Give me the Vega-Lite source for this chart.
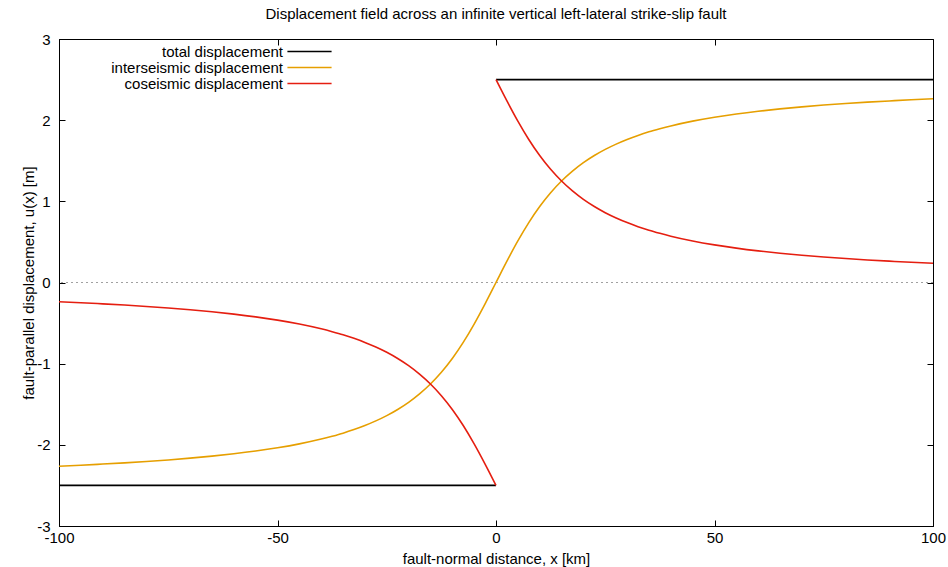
{
  "$schema": "https://vega.github.io/schema/vega-lite/v6.json",
  "autosize": {"type": "none"},
  "width": 874,
  "height": 487,
  "padding": {"left": 59, "top": 39, "right": 15, "bottom": 41},
  "background": "white",
  "title": {"text": "Displacement field across an infinite vertical left-lateral strike-slip fault", "fontSize": 15, "fontWeight": "normal", "font": "Liberation Sans", "color": "black", "anchor": "middle", "offset": 10},
  "data": {"values": [
    {"x": -100, "u": -2.5, "series": "total displacement", "seg": "tl"},
    {"x": 0, "u": -2.5, "series": "total displacement", "seg": "tl"},
    {"x": 0, "u": 2.5, "series": "total displacement", "seg": "tr"},
    {"x": 100, "u": 2.5, "series": "total displacement", "seg": "tr"},
    {"x": -100, "u": -2.263, "series": "interseismic displacement", "seg": "i"},
    {"x": -95, "u": -2.251, "series": "interseismic displacement", "seg": "i"},
    {"x": -90, "u": -2.237, "series": "interseismic displacement", "seg": "i"},
    {"x": -85, "u": -2.222, "series": "interseismic displacement", "seg": "i"},
    {"x": -80, "u": -2.205, "series": "interseismic displacement", "seg": "i"},
    {"x": -75, "u": -2.186, "series": "interseismic displacement", "seg": "i"},
    {"x": -70, "u": -2.164, "series": "interseismic displacement", "seg": "i"},
    {"x": -65, "u": -2.139, "series": "interseismic displacement", "seg": "i"},
    {"x": -60, "u": -2.110, "series": "interseismic displacement", "seg": "i"},
    {"x": -55, "u": -2.076, "series": "interseismic displacement", "seg": "i"},
    {"x": -50, "u": -2.036, "series": "interseismic displacement", "seg": "i"},
    {"x": -45, "u": -1.988, "series": "interseismic displacement", "seg": "i"},
    {"x": -40, "u": -1.929, "series": "interseismic displacement", "seg": "i"},
    {"x": -37.5, "u": -1.894, "series": "interseismic displacement", "seg": "i"},
    {"x": -35, "u": -1.856, "series": "interseismic displacement", "seg": "i"},
    {"x": -32.5, "u": -1.812, "series": "interseismic displacement", "seg": "i"},
    {"x": -30, "u": -1.762, "series": "interseismic displacement", "seg": "i"},
    {"x": -27.5, "u": -1.705, "series": "interseismic displacement", "seg": "i"},
    {"x": -25, "u": -1.640, "series": "interseismic displacement", "seg": "i"},
    {"x": -22.5, "u": -1.564, "series": "interseismic displacement", "seg": "i"},
    {"x": -20, "u": -1.476, "series": "interseismic displacement", "seg": "i"},
    {"x": -17.5, "u": -1.372, "series": "interseismic displacement", "seg": "i"},
    {"x": -15, "u": -1.250, "series": "interseismic displacement", "seg": "i"},
    {"x": -12.5, "u": -1.106, "series": "interseismic displacement", "seg": "i"},
    {"x": -10, "u": -0.936, "series": "interseismic displacement", "seg": "i"},
    {"x": -7.5, "u": -0.738, "series": "interseismic displacement", "seg": "i"},
    {"x": -5, "u": -0.512, "series": "interseismic displacement", "seg": "i"},
    {"x": -2.5, "u": -0.263, "series": "interseismic displacement", "seg": "i"},
    {"x": 0, "u": 0, "series": "interseismic displacement", "seg": "i"},
    {"x": 2.5, "u": 0.263, "series": "interseismic displacement", "seg": "i"},
    {"x": 5, "u": 0.512, "series": "interseismic displacement", "seg": "i"},
    {"x": 7.5, "u": 0.738, "series": "interseismic displacement", "seg": "i"},
    {"x": 10, "u": 0.936, "series": "interseismic displacement", "seg": "i"},
    {"x": 12.5, "u": 1.106, "series": "interseismic displacement", "seg": "i"},
    {"x": 15, "u": 1.250, "series": "interseismic displacement", "seg": "i"},
    {"x": 17.5, "u": 1.372, "series": "interseismic displacement", "seg": "i"},
    {"x": 20, "u": 1.476, "series": "interseismic displacement", "seg": "i"},
    {"x": 22.5, "u": 1.564, "series": "interseismic displacement", "seg": "i"},
    {"x": 25, "u": 1.640, "series": "interseismic displacement", "seg": "i"},
    {"x": 27.5, "u": 1.705, "series": "interseismic displacement", "seg": "i"},
    {"x": 30, "u": 1.762, "series": "interseismic displacement", "seg": "i"},
    {"x": 32.5, "u": 1.812, "series": "interseismic displacement", "seg": "i"},
    {"x": 35, "u": 1.856, "series": "interseismic displacement", "seg": "i"},
    {"x": 37.5, "u": 1.894, "series": "interseismic displacement", "seg": "i"},
    {"x": 40, "u": 1.929, "series": "interseismic displacement", "seg": "i"},
    {"x": 45, "u": 1.988, "series": "interseismic displacement", "seg": "i"},
    {"x": 50, "u": 2.036, "series": "interseismic displacement", "seg": "i"},
    {"x": 55, "u": 2.076, "series": "interseismic displacement", "seg": "i"},
    {"x": 60, "u": 2.110, "series": "interseismic displacement", "seg": "i"},
    {"x": 65, "u": 2.139, "series": "interseismic displacement", "seg": "i"},
    {"x": 70, "u": 2.164, "series": "interseismic displacement", "seg": "i"},
    {"x": 75, "u": 2.186, "series": "interseismic displacement", "seg": "i"},
    {"x": 80, "u": 2.205, "series": "interseismic displacement", "seg": "i"},
    {"x": 85, "u": 2.222, "series": "interseismic displacement", "seg": "i"},
    {"x": 90, "u": 2.237, "series": "interseismic displacement", "seg": "i"},
    {"x": 95, "u": 2.251, "series": "interseismic displacement", "seg": "i"},
    {"x": 100, "u": 2.263, "series": "interseismic displacement", "seg": "i"},
    {"x": -100, "u": -0.237, "series": "coseismic displacement", "seg": "cl"},
    {"x": -95, "u": -0.249, "series": "coseismic displacement", "seg": "cl"},
    {"x": -90, "u": -0.263, "series": "coseismic displacement", "seg": "cl"},
    {"x": -85, "u": -0.278, "series": "coseismic displacement", "seg": "cl"},
    {"x": -80, "u": -0.295, "series": "coseismic displacement", "seg": "cl"},
    {"x": -75, "u": -0.314, "series": "coseismic displacement", "seg": "cl"},
    {"x": -70, "u": -0.336, "series": "coseismic displacement", "seg": "cl"},
    {"x": -65, "u": -0.361, "series": "coseismic displacement", "seg": "cl"},
    {"x": -60, "u": -0.390, "series": "coseismic displacement", "seg": "cl"},
    {"x": -55, "u": -0.424, "series": "coseismic displacement", "seg": "cl"},
    {"x": -50, "u": -0.464, "series": "coseismic displacement", "seg": "cl"},
    {"x": -45, "u": -0.512, "series": "coseismic displacement", "seg": "cl"},
    {"x": -40, "u": -0.571, "series": "coseismic displacement", "seg": "cl"},
    {"x": -37.5, "u": -0.606, "series": "coseismic displacement", "seg": "cl"},
    {"x": -35, "u": -0.644, "series": "coseismic displacement", "seg": "cl"},
    {"x": -32.5, "u": -0.688, "series": "coseismic displacement", "seg": "cl"},
    {"x": -30, "u": -0.738, "series": "coseismic displacement", "seg": "cl"},
    {"x": -27.5, "u": -0.795, "series": "coseismic displacement", "seg": "cl"},
    {"x": -25, "u": -0.860, "series": "coseismic displacement", "seg": "cl"},
    {"x": -22.5, "u": -0.936, "series": "coseismic displacement", "seg": "cl"},
    {"x": -20, "u": -1.024, "series": "coseismic displacement", "seg": "cl"},
    {"x": -17.5, "u": -1.128, "series": "coseismic displacement", "seg": "cl"},
    {"x": -15, "u": -1.250, "series": "coseismic displacement", "seg": "cl"},
    {"x": -12.5, "u": -1.394, "series": "coseismic displacement", "seg": "cl"},
    {"x": -10, "u": -1.564, "series": "coseismic displacement", "seg": "cl"},
    {"x": -7.5, "u": -1.762, "series": "coseismic displacement", "seg": "cl"},
    {"x": -5, "u": -1.988, "series": "coseismic displacement", "seg": "cl"},
    {"x": -2.5, "u": -2.237, "series": "coseismic displacement", "seg": "cl"},
    {"x": 0, "u": -2.5, "series": "coseismic displacement", "seg": "cl"},
    {"x": 0, "u": 2.5, "series": "coseismic displacement", "seg": "cr"},
    {"x": 2.5, "u": 2.237, "series": "coseismic displacement", "seg": "cr"},
    {"x": 5, "u": 1.988, "series": "coseismic displacement", "seg": "cr"},
    {"x": 7.5, "u": 1.762, "series": "coseismic displacement", "seg": "cr"},
    {"x": 10, "u": 1.564, "series": "coseismic displacement", "seg": "cr"},
    {"x": 12.5, "u": 1.394, "series": "coseismic displacement", "seg": "cr"},
    {"x": 15, "u": 1.250, "series": "coseismic displacement", "seg": "cr"},
    {"x": 17.5, "u": 1.128, "series": "coseismic displacement", "seg": "cr"},
    {"x": 20, "u": 1.024, "series": "coseismic displacement", "seg": "cr"},
    {"x": 22.5, "u": 0.936, "series": "coseismic displacement", "seg": "cr"},
    {"x": 25, "u": 0.860, "series": "coseismic displacement", "seg": "cr"},
    {"x": 27.5, "u": 0.795, "series": "coseismic displacement", "seg": "cr"},
    {"x": 30, "u": 0.738, "series": "coseismic displacement", "seg": "cr"},
    {"x": 32.5, "u": 0.688, "series": "coseismic displacement", "seg": "cr"},
    {"x": 35, "u": 0.644, "series": "coseismic displacement", "seg": "cr"},
    {"x": 37.5, "u": 0.606, "series": "coseismic displacement", "seg": "cr"},
    {"x": 40, "u": 0.571, "series": "coseismic displacement", "seg": "cr"},
    {"x": 45, "u": 0.512, "series": "coseismic displacement", "seg": "cr"},
    {"x": 50, "u": 0.464, "series": "coseismic displacement", "seg": "cr"},
    {"x": 55, "u": 0.424, "series": "coseismic displacement", "seg": "cr"},
    {"x": 60, "u": 0.390, "series": "coseismic displacement", "seg": "cr"},
    {"x": 65, "u": 0.361, "series": "coseismic displacement", "seg": "cr"},
    {"x": 70, "u": 0.336, "series": "coseismic displacement", "seg": "cr"},
    {"x": 75, "u": 0.314, "series": "coseismic displacement", "seg": "cr"},
    {"x": 80, "u": 0.295, "series": "coseismic displacement", "seg": "cr"},
    {"x": 85, "u": 0.278, "series": "coseismic displacement", "seg": "cr"},
    {"x": 90, "u": 0.263, "series": "coseismic displacement", "seg": "cr"},
    {"x": 95, "u": 0.249, "series": "coseismic displacement", "seg": "cr"},
    {"x": 100, "u": 0.237, "series": "coseismic displacement", "seg": "cr"}
  ]},
  "layer": [
    {
      "mark": {"type": "rule", "color": "#a0a0a0", "strokeWidth": 1, "strokeDash": [2, 3]},
      "encoding": {"y": {"datum": 0, "type": "quantitative", "scale": {"domain": [-3, 3], "nice": false}, "axis": null}}
    },
    {
      "mark": {"type": "line", "strokeWidth": 1.6, "interpolate": "monotone"},
      "encoding": {
        "x": {"field": "x", "type": "quantitative", "scale": {"domain": [-100, 100], "nice": false},
              "axis": {"orient": "bottom", "values": [-100, -50, 0, 50, 100], "title": "fault-normal distance, x [km]", "labelFlush": false, "labelPadding": 10, "titlePadding": 6, "labelExpr": "toString(datum.value)"}},
        "y": {"field": "u", "type": "quantitative", "scale": {"domain": [-3, 3], "nice": false},
              "axis": {"orient": "left", "values": [-3, -2, -1, 0, 1, 2, 3], "title": "fault-parallel displacement, u(x) [m]", "labelFlush": false, "labelPadding": 15, "titlePadding": 0, "labelExpr": "toString(datum.value)"}},
        "color": {"field": "series", "type": "nominal",
                  "scale": {"domain": ["total displacement", "interseismic displacement", "coseismic displacement"], "range": ["#000000", "#e69f00", "#e51e10"]},
                  "legend": {"title": null, "orient": "none", "legendX": 243, "legendY": 5, "symbolType": "M-5,0H5", "symbolSize": 78, "symbolStrokeWidth": 1.6, "labelAlign": "right", "labelOffset": -34, "labelFontSize": 15, "labelColor": "black", "rowPadding": -2, "padding": 0, "labelLimit": 400}},
        "detail": {"field": "seg"}
      }
    },
    {
      "mark": {"type": "point", "opacity": 0},
      "encoding": {
        "x": {"field": "x", "type": "quantitative", "axis": {"orient": "top", "values": [-100, -50, 0, 50, 100], "labels": false, "title": null, "domain": false}},
        "y": {"field": "u", "type": "quantitative", "axis": {"orient": "right", "values": [-3, -2, -1, 0, 1, 2, 3], "labels": false, "title": null, "domain": false}}
      }
    }
  ],
  "resolve": {"axis": {"x": "independent", "y": "independent"}},
  "config": {
    "font": "Liberation Sans",
    "view": {"stroke": "black", "strokeWidth": 1},
    "axis": {"grid": false, "domain": true, "domainColor": "black", "domainWidth": 1, "ticks": true, "tickColor": "black", "tickSize": -6, "tickWidth": 1, "labelFontSize": 15, "labelColor": "black", "labelFont": "Liberation Sans", "titleFont": "Liberation Sans", "titleFontSize": 15, "titleFontWeight": "normal", "titleColor": "black", "labelOverlap": false}
  }
}
